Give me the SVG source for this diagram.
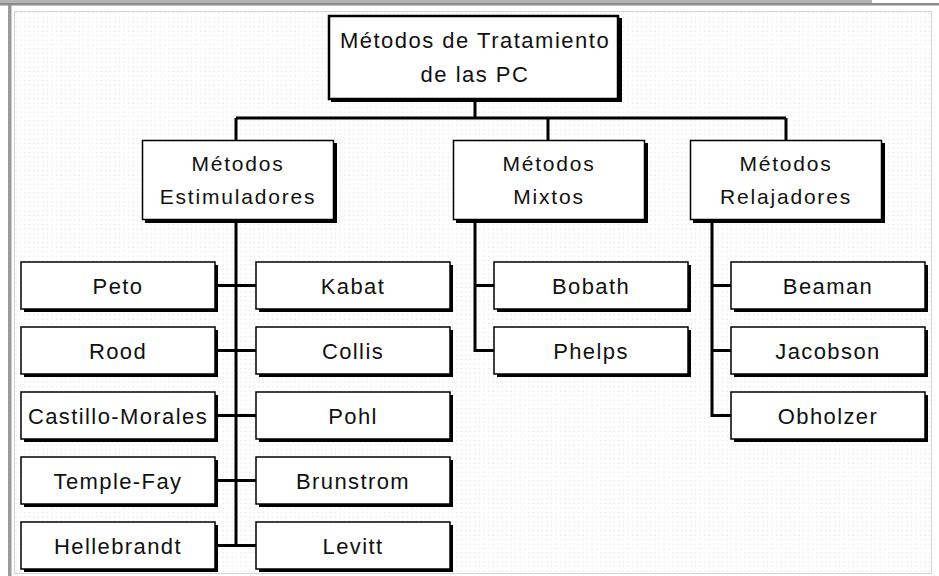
<svg xmlns="http://www.w3.org/2000/svg" width="939" height="576" viewBox="0 0 939 576">
<defs>
<pattern id="dots" x="14" y="11" width="4.5" height="4.5" patternUnits="userSpaceOnUse">
<rect width="4.5" height="4.5" fill="#ffffff"/>
<rect x="1.5" y="1.5" width="1" height="1" fill="#d2d2d2"/>
</pattern>
</defs>
<style>
.sh{fill:#000}
.bx{fill:#fff;stroke:#000;stroke-width:1.5}
.bxt{fill:#fff;stroke:#000;stroke-width:2.5}
.c{fill:none;stroke:#000;stroke-width:3}
text{font-family:"Liberation Sans",Arial,sans-serif;fill:#111;text-anchor:middle}
.t0{font-size:22px;letter-spacing:1.5px}
.t1{font-size:21px;letter-spacing:1.8px}
.t2{font-size:22px;letter-spacing:1.4px}
</style>
<rect width="939" height="576" fill="#fff"/>
<rect x="0" y="0" width="872" height="3" fill="#b4b4b4"/>
<rect x="0" y="3" width="939" height="2.5" fill="#8c8c8c"/>
<rect x="8" y="5" width="3.5" height="571" fill="#9a9a9a"/>
<rect x="14.5" y="11.5" width="917" height="562" fill="url(#dots)" stroke="#d4d4d4" stroke-width="1"/>

<g id="connectors">
<path class="c" d="M475 99V118M236 118H786M236 118V140M548 118V140M786 118V140"/>
<path class="c" d="M236 220V545.5M215 285.5H256M215 350.5H256M215 415.5H256M215 480.5H256M215 545.5H256"/>
<path class="c" d="M475 220V350.5H494M475 285.5H494"/>
<path class="c" d="M712 220V415.5H731M712 285.5H731M712 350.5H731"/>
</g>

<g id="root">
<rect class="sh" x="331" y="18" width="291" height="84"/>
<rect class="bxt" x="329" y="16" width="289" height="83"/>
<text class="t0" x="475" y="48">Métodos de Tratamiento</text>
<text class="t0" x="475" y="82">de las PC</text>
</g>

<g id="estimuladores">
<rect class="sh" x="145" y="143" width="192" height="80"/>
<rect class="bx" x="142.5" y="140.5" width="191" height="79"/>
<text class="t1" x="238" y="171">Métodos</text>
<text class="t1" x="238" y="204">Estimuladores</text>
</g>
<g id="mixtos">
<rect class="sh" x="456" y="143" width="192" height="80"/>
<rect class="bx" x="453.5" y="140.5" width="191" height="79"/>
<text class="t1" x="549" y="171">Métodos</text>
<text class="t1" x="549" y="204">Mixtos</text>
</g>
<g id="relajadores">
<rect class="sh" x="693" y="143" width="192" height="80"/>
<rect class="bx" x="690.5" y="140.5" width="191" height="79"/>
<text class="t1" x="786" y="171">Métodos</text>
<text class="t1" x="786" y="204">Relajadores</text>
</g>

<g id="peto"><rect class="sh" x="24" y="265" width="194" height="47"/><rect class="bx" x="21" y="262" width="194" height="47"/><text class="t2" x="118" y="294">Peto</text></g>
<g id="rood"><rect class="sh" x="24" y="330" width="194" height="47"/><rect class="bx" x="21" y="327" width="194" height="47"/><text class="t2" x="118" y="359">Rood</text></g>
<g id="castillo-morales"><rect class="sh" x="24" y="395" width="194" height="47"/><rect class="bx" x="21" y="392" width="194" height="47"/><text class="t2" x="118" y="424">Castillo-Morales</text></g>
<g id="temple-fay"><rect class="sh" x="24" y="460" width="194" height="47"/><rect class="bx" x="21" y="457" width="194" height="47"/><text class="t2" x="118" y="489">Temple-Fay</text></g>
<g id="hellebrandt"><rect class="sh" x="24" y="525" width="194" height="47"/><rect class="bx" x="21" y="522" width="194" height="47"/><text class="t2" x="118" y="554">Hellebrandt</text></g>

<g id="kabat"><rect class="sh" x="259" y="265" width="194" height="47"/><rect class="bx" x="256" y="262" width="194" height="47"/><text class="t2" x="353" y="294">Kabat</text></g>
<g id="collis"><rect class="sh" x="259" y="330" width="194" height="47"/><rect class="bx" x="256" y="327" width="194" height="47"/><text class="t2" x="353" y="359">Collis</text></g>
<g id="pohl"><rect class="sh" x="259" y="395" width="194" height="47"/><rect class="bx" x="256" y="392" width="194" height="47"/><text class="t2" x="353" y="424">Pohl</text></g>
<g id="brunstrom"><rect class="sh" x="259" y="460" width="194" height="47"/><rect class="bx" x="256" y="457" width="194" height="47"/><text class="t2" x="353" y="489">Brunstrom</text></g>
<g id="levitt"><rect class="sh" x="259" y="525" width="194" height="47"/><rect class="bx" x="256" y="522" width="194" height="47"/><text class="t2" x="353" y="554">Levitt</text></g>

<g id="bobath"><rect class="sh" x="497" y="265" width="194" height="47"/><rect class="bx" x="494" y="262" width="194" height="47"/><text class="t2" x="591" y="294">Bobath</text></g>
<g id="phelps"><rect class="sh" x="497" y="330" width="194" height="47"/><rect class="bx" x="494" y="327" width="194" height="47"/><text class="t2" x="591" y="359">Phelps</text></g>

<g id="beaman"><rect class="sh" x="734" y="265" width="194" height="47"/><rect class="bx" x="731" y="262" width="194" height="47"/><text class="t2" x="828" y="294">Beaman</text></g>
<g id="jacobson"><rect class="sh" x="734" y="330" width="194" height="47"/><rect class="bx" x="731" y="327" width="194" height="47"/><text class="t2" x="828" y="359">Jacobson</text></g>
<g id="obholzer"><rect class="sh" x="734" y="395" width="194" height="47"/><rect class="bx" x="731" y="392" width="194" height="47"/><text class="t2" x="828" y="424">Obholzer</text></g>
</svg>
